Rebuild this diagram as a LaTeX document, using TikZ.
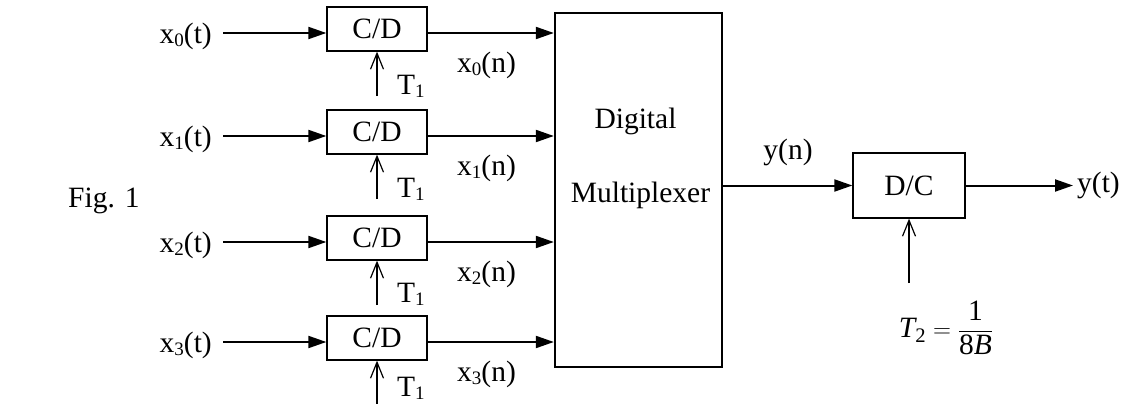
\documentclass[tikz,border=0pt]{standalone}
\usepackage{fontspec}
\usepackage{amsmath}
\setmainfont{Liberation Serif}
\usetikzlibrary{arrows.meta}
\newcommand\lowsub[1]{\raisebox{-0.12em}{\fontsize{19}{19}\selectfont #1}}
\begin{document}
\begin{tikzpicture}[x=1pt,y=-1pt,
  font=\fontsize{29.5}{35}\selectfont,
  box/.style={draw, line width=1.3pt, inner sep=0pt},
  lbl/.style={inner sep=0pt},
  bigarrow/.style={line width=2pt, -{Triangle[length=18pt,width=12pt]}},
  clk/.style={line width=1.2pt, -{Straight Barb[length=16pt,width=13pt,line width=1.2pt]}}]
\useasboundingbox (0,0) rectangle (1124,404);

% multiplexer
\node[draw, line width=2.3pt, minimum width=167pt, minimum height=354pt, inner sep=0pt] (mux) at (638.5,190) {};
\node[anchor=base, inner sep=0pt] (dig) at (635.5,128) {Digital};
\node[anchor=base, inner sep=0pt] (mul) at (640.5,202) {Multiplexer};

% rows
\foreach \i/\ay/\tb in {0/33/94,1/136/197,2/242/302,3/342/396}{
  \node[box, minimum width=100pt, minimum height=44pt] (cd\i) at (377,\ay-4) {C/D};
  \coordinate (s\i) at (223,\ay);
  \node[lbl, anchor=east] (xt\i) at (212,\ay+3) {x\lowsub{\i}(t)};
  \node[lbl] (xn\i) at (486.5,\ay+32) {x\lowsub{\i}(n)};
  \coordinate (c\i) at (377,\ay+63);
  \node[lbl, anchor=base west] (tl\i) at (397,\tb) {T\lowsub{1}};
  \draw[bigarrow] (s\i) -- (s\i -| cd\i.west);
  \draw[bigarrow] (cd\i.east |- s\i) -- (s\i -| mux.west);
  \draw[clk] (c\i) -- (cd\i.south);
}

% D/C
\node[box, minimum width=112pt, minimum height=65pt] (dc) at (909,185.5) {D/C};
\draw[bigarrow] (mux.east |- dc.west) -- (dc.west);
\node[lbl] (yn) at (788,152) {y(n)};
\node[lbl, anchor=west] (yt) at (1077,185.5) {y(t)};
\draw[bigarrow] (dc.east) -- ([xshift=-4pt]yt.west);
\coordinate (c4) at (909,283);
\draw[clk] (c4) -- (dc.south);
\node[lbl] (t2) at (946,328) {$\textit{T}_{\text{2}} = \dfrac{\text{1}}{\text{8}\textit{B}}$};

\node[lbl, anchor=base west] (fig) at (68,207) {Fig. 1};
\end{tikzpicture}
\end{document}
